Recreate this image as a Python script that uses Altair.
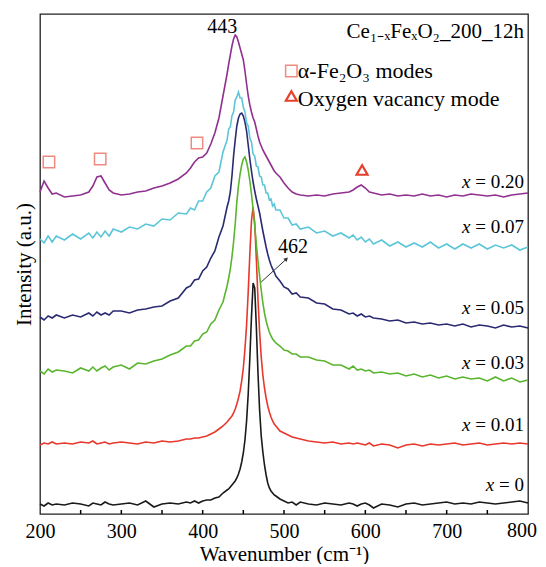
import altair as alt
import pandas as pd

# ---------------- data ----------------
wavenumber = [200, 205, 210, 215, 220,
              230, 240, 250, 260, 265, 270, 275, 280, 285, 290,
              300, 310, 320, 330, 340, 350, 360, 370, 380, 385, 390, 395, 400, 405, 410, 415, 420, 425, 430,
              432, 434, 436, 438, 440, 442, 444, 446, 448, 450, 452, 454, 456, 458, 460,
              462, 464, 466, 468, 470, 472, 474, 476, 478, 480, 482, 484, 486, 488, 490,
              495, 500, 505, 510, 515, 520, 530, 540, 550, 560, 570, 580, 585, 590, 595, 600, 605,
              610, 620, 630, 640, 650, 660, 670, 680, 690, 700, 710, 720, 730, 740, 750, 760, 770, 780, 790, 800]

int_x000 = [10, 8, 11, 9, 10,
            9, 11, 10, 8, 11, 10, 9, 12, 10, 9,
            10, 11, 9, 13, 7, 10, 11, 10, 12, 11, 13, 11, 13, 14, 14, 16, 17, 21, 24,
            25, 27, 29, 31, 33, 36, 40, 45, 52, 61, 74, 93, 120, 156, 197,
            231, 226, 187, 141, 104, 78, 62, 49, 39, 31, 26, 23, 21, 19, 18,
            15, 13, 11, 12, 9, 12, 10, 9, 11, 10, 9, 11, 10, 8, 10, 11, 9,
            6, 10, 9, 7, 10, 11, 9, 10, 11, 12, 10, 11, 10, 12, 11, 10, 11, 12, 13, 11]

int_x001 = [69, 71, 70, 72, 70,
            71, 70, 72, 71, 73, 70, 71, 72, 70, 71,
            72, 71, 70, 72, 71, 73, 72, 73, 75, 75, 76, 76, 77, 78, 80, 82, 85, 88, 92,
            94, 96, 98, 101, 105, 110, 116, 123, 133, 146, 165, 189, 222, 260, 293,
            307, 291, 255, 215, 182, 157, 139, 126, 116, 108, 102, 97, 93, 90, 88,
            83, 81, 79, 77, 76, 75, 73, 72, 71, 72, 70, 71, 70, 71, 70, 69, 71,
            68, 70, 69, 66, 69, 70, 68, 70, 69, 70, 71, 69, 70, 71, 69, 70, 71, 70, 71, 70]

int_x003 = [143, 140, 145, 142, 144,
            143, 141, 146, 143, 147, 143, 146, 148, 144, 147,
            149, 145, 151, 150, 153, 155, 159, 162, 168, 168, 173, 174, 180, 182, 190, 194, 204, 212, 228,
            236, 245, 257, 272, 290, 312, 328, 340, 349, 355, 357, 352, 344, 333, 320,
            305, 288, 270, 253, 238, 224, 211, 201, 193, 187, 182, 178, 175, 173, 171,
            168, 164, 163, 160, 160, 157, 157, 154, 153, 149, 149, 145, 148, 144, 145, 143, 144,
            141, 142, 140, 141, 138, 140, 137, 139, 136, 138, 135, 137, 135, 136, 133, 137, 133, 136, 132, 134]

int_x005 = [197, 194, 198, 196, 199,
            196, 199, 197, 201, 198, 202, 199, 201, 199, 203,
            203, 201, 204, 205, 207, 208, 213, 216, 226, 228, 234, 235, 243, 247, 256, 263, 277, 288, 307,
            313, 322, 338, 358, 374, 388, 396, 400, 401, 398, 392, 383, 369, 355, 343,
            332, 323, 315, 308, 301, 292, 283, 275, 267, 260, 254, 249, 245, 242, 238,
            233, 227, 225, 220, 221, 217, 216, 211, 210, 205, 204, 200, 201, 198, 200, 197, 198,
            196, 195, 193, 194, 191, 192, 190, 191, 189, 190, 188, 190, 187, 189, 188, 186, 189, 187, 188, 186]

int_x007 = [275, 271, 278, 272, 278,
            274, 280, 275, 281, 276, 282, 277, 283, 278, 285,
            282, 287, 285, 290, 288, 295, 294, 301, 300, 306, 304, 313, 313, 322, 326, 338, 342, 362, 374,
            385, 387, 398, 402, 414, 417, 422, 416, 416, 407, 402, 391, 388, 376, 372,
            360, 358, 348, 347, 338, 337, 329, 329, 321, 321, 314, 315, 308, 310, 304,
            304, 296, 296, 289, 290, 285, 287, 281, 283, 278, 281, 276, 279, 274, 277, 272, 275,
            270, 274, 268, 272, 267, 271, 267, 272, 266, 270, 265, 270, 266, 270, 265, 269, 266, 269, 264, 267]

int_x020 = [322, 333, 326, 320, 321,
            317, 318, 319, 322, 328, 337, 338, 331, 324, 321,
            319, 320, 322, 323, 326, 328, 331, 335, 341, 346, 352, 356, 357, 361, 370, 381, 396, 418, 440,
            450, 459, 468, 475, 479, 477, 472, 466, 460, 454, 443, 430, 418, 409, 402,
            396, 392, 385, 378, 372, 368, 364, 361, 358, 355, 352, 349, 346, 343, 341,
            337, 331, 326, 322, 320, 319, 318, 319, 318, 320, 321, 322, 324, 327, 329, 326, 322,
            321, 319, 320, 318, 319, 318, 320, 318, 319, 317, 319, 318, 320, 319, 318, 319, 317, 319, 320, 321]

series_names = ["x=0", "x=0.01", "x=0.03", "x=0.05", "x=0.07", "x=0.20"]
series_colors = ["#1a1a1a", "#e8372c", "#5ab52e", "#2a2a72", "#5cc6d9", "#90318f"]

label_values = ["0", "0.01", "0.03", "0.05", "0.07", "0.20"]
label_levels = [29, 89, 151, 206, 287, 332]

hematite_wn = [211, 274, 393]
hematite_int = [352, 355, 371]
vacancy_wn = [596]
vacancy_int = [344]

tick_positions = [250, 300, 350, 400, 450, 500, 550, 600, 650, 700, 750]
axis_labels = [200, 300, 400, 500, 600, 700]
last_label = 800

# ---------------- tables ----------------
rows = []
for name, vals in zip(series_names, [int_x000, int_x001, int_x003, int_x005, int_x007, int_x020]):
    for w, v in zip(wavenumber, vals):
        rows.append({"wn": w, "I": v, "s": name})
df = pd.DataFrame(rows)

FONT = "Liberation Serif"
x_scale = alt.Scale(domain=[200, 800], nice=False, zero=False)
y_scale = alt.Scale(domain=[0, 500], nice=False, zero=False)

x_axis = alt.Axis(values=axis_labels, ticks=False, tickSize=0, domain=False, grid=False,
                  labelFont=FONT, labelFontSize=20, labelColor="black", labelPadding=23,
                  labelBaseline="alphabetic", labelFlush=False,
                  title="Wavenumber (cm⁻¹)", titleFont=FONT, titleFontSize=21,
                  titleFontWeight="normal", titleColor="black",
                  titleBaseline="alphabetic", titleY=46, titleX=244)
y_axis = alt.Axis(labels=False, ticks=False, domain=False, grid=False,
                  title="Intensity (a.u.)", titleFont=FONT, titleFontSize=21,
                  titleFontWeight="normal", titleColor="black", titleAngle=270,
                  titleBaseline="alphabetic", titleAlign="center", titleX=-10, titleY=250)

X = alt.X("wn:Q", scale=x_scale, axis=x_axis)
Y = alt.Y("I:Q", scale=y_scale, axis=y_axis)

lines = alt.Chart(df).mark_line(strokeWidth=1.6).encode(
    x=X, y=Y,
    color=alt.Color("s:N", scale=alt.Scale(domain=series_names, range=series_colors), legend=None),
)

ticks = alt.Chart(pd.DataFrame({"wn": tick_positions})).mark_rule(color="black", strokeWidth=1.5).encode(
    x=X, y=alt.value(500), y2=alt.value(496)
)

# last tick label drawn as text so that it stays inside the page
label800 = alt.Chart(pd.DataFrame({"wn": [last_label], "t": [str(last_label)]})).mark_text(
    font=FONT, fontSize=20, align="right", baseline="alphabetic", color="black", dx=9).encode(
    x=X, y=alt.value(523), text="t:N")

# series labels: italic x + rest
lab_df = pd.DataFrame({"wn": [795] * len(label_values), "I": label_levels,
                       "rest": [" = " + v for v in label_values]})
char_w = {"0": 0.5, "1": 0.5, "2": 0.5, "3": 0.5, "5": 0.5, "7": 0.5, ".": 0.25, "=": 0.564, " ": 0.25}
lab_df["dx"] = [-sum(char_w.get(c, 0.5) for c in r) * 19 for r in lab_df["rest"]]

rest_text = alt.Chart(lab_df).mark_text(font=FONT, fontSize=19, align="right", baseline="middle",
                                        color="black").encode(x=X, y=Y, text="rest:N")
x_texts = []
for _, r in lab_df.iterrows():
    x_texts.append(
        alt.Chart(pd.DataFrame({"wn": [r["wn"]], "I": [r["I"]], "t": ["x"]})).mark_text(
            font=FONT, fontSize=19, fontStyle="italic", align="right", baseline="middle",
            color="black", dx=float(r["dx"])).encode(x=X, y=Y, text="t:N")
    )

peak443 = alt.Chart(pd.DataFrame({"wn": [424], "I": [487], "t": ["443"]})).mark_text(
    font=FONT, fontSize=20, align="center", baseline="middle", color="black").encode(x=X, y=Y, text="t:N")
peak462 = alt.Chart(pd.DataFrame({"wn": [511], "I": [267], "t": ["462"]})).mark_text(
    font=FONT, fontSize=20, align="center", baseline="middle", color="black").encode(x=X, y=Y, text="t:N")

arrow = alt.Chart(pd.DataFrame({"wn": [472], "I": [232], "wn2": [503], "I2": [255]})).mark_rule(
    color="#333333", strokeWidth=1).encode(x=X, y=Y, x2="wn2:Q", y2="I2:Q")
arrow_head = alt.Chart(pd.DataFrame({"wn": [503], "I": [255]})).mark_point(
    shape="triangle-up", size=22, filled=True, color="#333333", angle=47, opacity=1).encode(x=X, y=Y)

title_txt = alt.Chart(pd.DataFrame({"wn": [795], "I": [482], "t": ["Ce₁₋ₓFeₓO₂_200_12h"]})).mark_text(
    font=FONT, fontSize=21, align="right", baseline="middle", color="black").encode(x=X, y=Y, text="t:N")

squares = alt.Chart(pd.DataFrame({"wn": hematite_wn + [509], "I": hematite_int + [443]})).mark_point(
    shape="square", size=130, filled=False, color="#f08a80", strokeWidth=1.5, opacity=1).encode(x=X, y=Y)
triangles = alt.Chart(pd.DataFrame({"wn": vacancy_wn + [509], "I": vacancy_int + [418]})).mark_point(
    shape="triangle-up", size=120, filled=False, color="#e5402c", strokeWidth=2.2, opacity=1).encode(x=X, y=Y)

legend_txt = alt.Chart(pd.DataFrame({"wn": [517, 517], "I": [443, 415],
                                     "t": ["α-Fe₂O₃ modes", "Oxygen vacancy mode"]})).mark_text(
    font=FONT, fontSize=22, align="left", baseline="middle", color="black").encode(x=X, y=Y, text="t:N")

chart = alt.layer(lines, ticks, label800, rest_text, *x_texts, peak443, peak462, arrow, arrow_head,
                  title_txt, squares, triangles, legend_txt).properties(
    width=488, height=500,
    autosize=alt.AutoSizeParams(type="none"),
    padding={"left": 32, "top": 6, "right": 10, "bottom": 50},
    background="white",
).configure_view(stroke="#222222", strokeWidth=1.3)

chart.save("out.html", embed_options={"renderer": "svg", "actions": False})
